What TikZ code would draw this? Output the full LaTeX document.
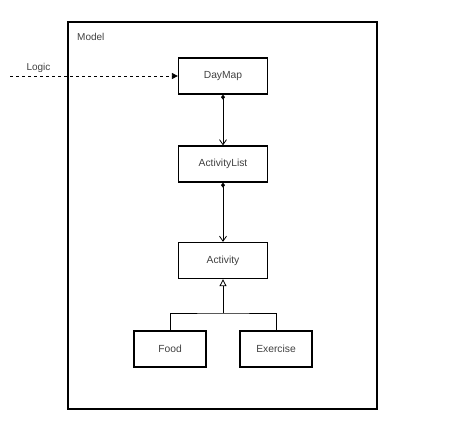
\documentclass[tikz,border=0pt]{standalone}
\usepackage{fontspec}
\setmainfont{Liberation Sans}
\usetikzlibrary{arrows.meta}
\begin{document}
\begin{tikzpicture}[x=1pt,y=-1pt,
  cls/.style={draw,line width=1.3pt,minimum width=89pt,minimum height=36pt,inner sep=0pt,font=\fontsize{10.3}{12}\selectfont,text=black!75},
  sub/.style={cls,minimum width=72pt},
  comp/.style={line width=0.8pt,{Diamond[length=5pt,width=4pt]}-{Straight Barb[length=5pt,width=7pt,line width=0.8pt]}},
  lbl/.style={font=\fontsize{10}{12}\selectfont,text=black!75,inner sep=0pt}]
\useasboundingbox (0,0) rectangle (458,428);
\draw[line width=1.3pt] (68,22) rectangle (377,409);
\node[lbl,anchor=west] (model) at (77,37) {Model};
\node[cls] (daymap) at (223,76) {DayMap};
\node[cls] (alist) at (223,164) {ActivityList};
\node[cls] (act) at (223,260.5) {Activity};
\node[sub] (food) at (170,349) {Food};
\node[sub] (ex) at (276,349) {Exercise};
\coordinate (logicstart) at (10,76);
\node[lbl] (logic) at (38.5,68) {Logic};
\draw[line width=0.8pt,dashed,-{Triangle[length=6pt,width=6pt]}] (logicstart) -- (daymap.west);
\draw[comp] (daymap.south) -- (alist.north);
\draw[comp] (alist.south) -- (act.north);
\coordinate (fork) at (223,313);
\draw[line width=0.8pt,-{Triangle[open,length=7pt,width=7pt]}] (fork) -- (act.south);
\draw[line width=0.8pt] (food.north) |- (fork) -| (ex.north);
\end{tikzpicture}
\end{document}
